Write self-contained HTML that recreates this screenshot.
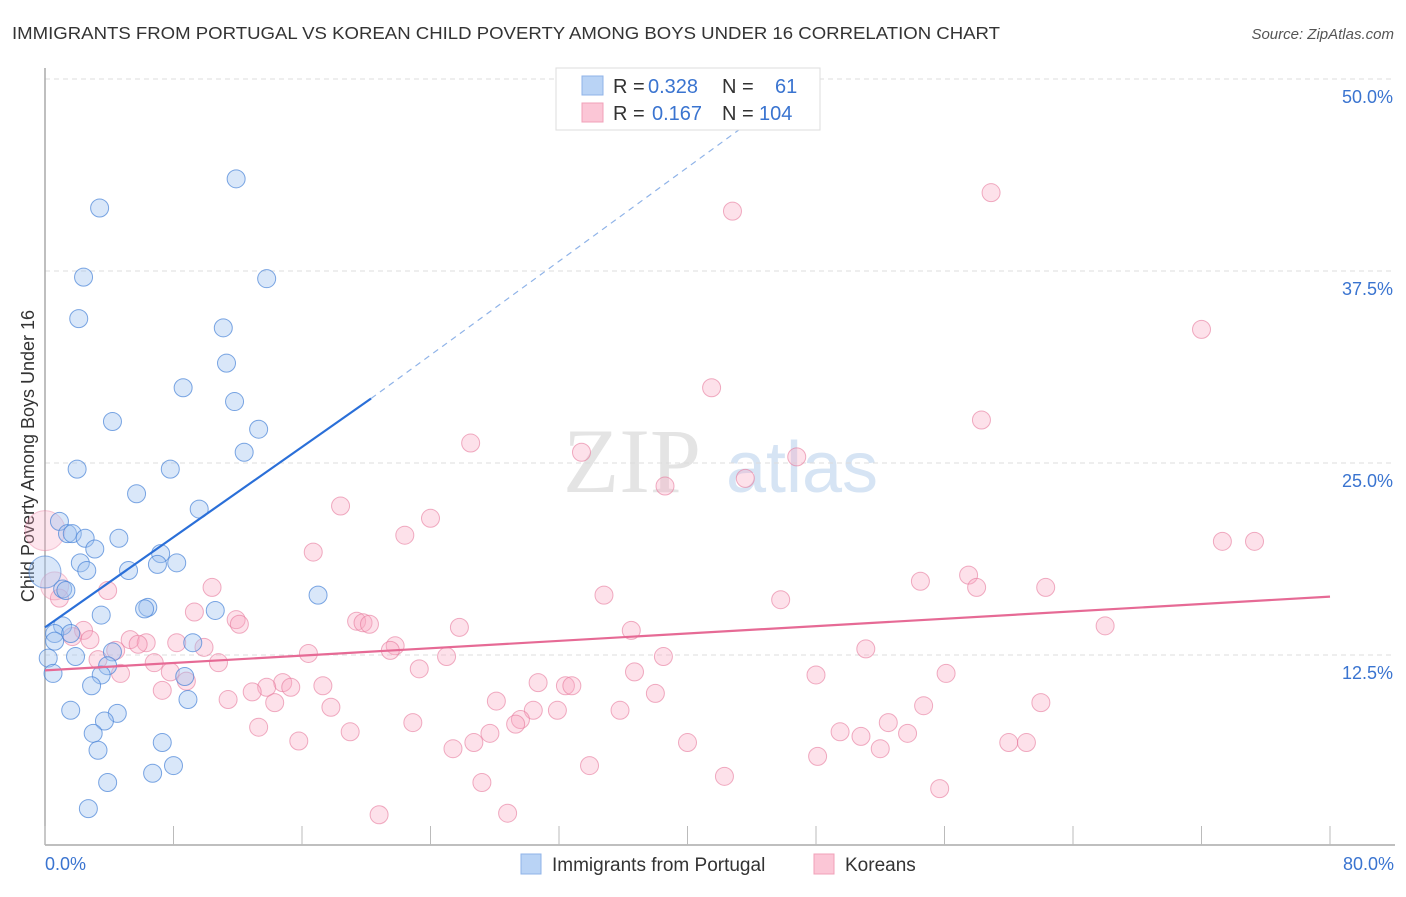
<!DOCTYPE html>
<html><head><meta charset="utf-8">
<style>
body{margin:0;background:#fff;font-family:"Liberation Sans",sans-serif;}
#wrap{position:relative;width:1406px;height:892px;}
</style></head>
<body>
<div id="wrap">
<svg id="chart" width="1406" height="892" xmlns="http://www.w3.org/2000/svg">
<text x="12" y="39" font-size="17.5" fill="#333" textLength="988" lengthAdjust="spacingAndGlyphs">IMMIGRANTS FROM PORTUGAL VS KOREAN CHILD POVERTY AMONG BOYS UNDER 16 CORRELATION CHART</text>
<text x="1394" y="39" font-size="15" fill="#555" font-style="italic" text-anchor="end">Source: ZipAtlas.com</text>
<text x="34" y="456" font-size="18" fill="#333" text-anchor="middle" transform="rotate(-90 34 456)">Child Poverty Among Boys Under 16</text>
<g>
<text x="632" y="492" font-size="92" fill="#e4e4e4" font-family="Liberation Serif,serif" text-anchor="middle">ZIP</text>
<text x="802" y="492" font-size="72" fill="#d6e4f4" text-anchor="middle">atlas</text>
</g>
<g id="grid"></g>
<g id="axes"></g>
<g id="pts"></g>
<g id="lines"></g>
<g>
<rect x="556" y="68" width="264" height="62" fill="#fff" stroke="#ddd"/>
<rect x="582" y="76" width="21" height="19" fill="#b9d3f5" stroke="#8fb3e8"/>
<rect x="582" y="103" width="21" height="19" fill="#fbc6d6" stroke="#f0a0b8"/>
<text font-size="20" y="93"><tspan x="613" fill="#333">R = </tspan><tspan x="648" fill="#3a74d0">0.328</tspan><tspan x="722" fill="#333">N = </tspan><tspan x="775" fill="#3a74d0">61</tspan></text>
<text font-size="20" y="120"><tspan x="613" fill="#333">R = </tspan><tspan x="652" fill="#3a74d0">0.167</tspan><tspan x="722" fill="#333">N = </tspan><tspan x="759" fill="#3a74d0">104</tspan></text>
</g>
<text x="45" y="870" font-size="18" fill="#3a74d0">0.0%</text>
<text x="1394" y="870" font-size="18" fill="#3a74d0" text-anchor="end">80.0%</text>
<g>
<rect x="521" y="854" width="20" height="20" fill="#b9d3f5" stroke="#8fb3e8"/>
<text x="552" y="871" font-size="19" fill="#333">Immigrants from Portugal</text>
<rect x="814" y="854" width="20" height="20" fill="#fbc6d6" stroke="#f0a0b8"/>
<text x="845" y="871" font-size="19" fill="#333">Koreans</text>
</g>
</svg>
</div>
<script>
const yTicks=[12.5,25,37.5,50];
const yTickLabels=["12.5%","25.0%","37.5%","50.0%"];
const xTicks=[0,8,16,24,32,40,48,56,64,72,80];
const blueX=[3.4,11.9,2.4,13.8,2.1,11.1,11.3,8.6,11.8,4.2,13.3,12.4,2.0,7.8,5.7,9.6,0.9,1.4,1.7,2.5,4.6,3.1,7.2,2.2,8.2,7.0,2.6,5.2,1.1,1.3,17.0,6.4,6.2,10.6,3.5,1.1,0.6,1.6,0.6,9.2,4.2,0.2,1.9,3.9,0.5,3.5,8.7,2.9,8.9,1.6,4.5,3.7,3.0,7.3,3.3,8.0,6.7,3.9,2.7];
const blueY=[41.6,43.5,37.1,37.0,34.4,33.8,31.5,29.9,29.0,27.7,27.2,25.7,24.6,24.6,23.0,22.0,21.2,20.4,20.4,20.1,20.1,19.4,19.1,18.5,18.5,18.4,18.0,18.0,16.8,16.7,16.4,15.6,15.5,15.4,15.1,14.4,13.9,13.9,13.4,13.3,12.7,12.3,12.4,11.8,11.3,11.2,11.1,10.5,9.6,8.9,8.7,8.2,7.4,6.8,6.3,5.3,4.8,4.2,2.5];
const blueBigX=[0];const blueBigY=[17.9];
const pinkX=[58.9,42.8,72.0,41.5,58.3,26.5,33.4,46.8,43.6,38.6,18.4,24.0,22.4,73.3,75.3,16.7,57.5,54.5,10.4,58.0,62.3,3.9,0.9,34.8,45.8,9.3,11.9,12.1,19.4,19.8,20.2,25.8,66.0,36.5,2.4,1.7,2.8,5.3,6.3,8.2,5.8,21.8,21.5,4.4,9.9,51.1,16.4,25.0,38.5,3.3,6.8,10.8,23.3,36.7,48.0,56.1,4.7,7.8,14.8,30.7,32.4,32.8,8.8,13.8,15.3,17.3,7.3,12.9,11.4,38.0,28.1,14.3,62.0,54.7,17.8,30.4,31.9,35.8,29.6,22.9,29.3,52.5,13.3,19.0,49.5,27.7,53.7,50.8,15.8,26.7,40.0,60.0,61.1,25.4,52.0,48.1,33.9,42.3,27.2,55.7,28.8,20.8];
const pinkY=[42.6,41.4,33.7,29.9,27.8,26.3,25.7,25.4,24.0,23.5,22.2,21.4,20.3,19.9,19.9,19.2,17.7,17.3,16.9,16.9,16.9,16.7,16.2,16.4,16.1,15.3,14.8,14.5,14.7,14.6,14.5,14.3,14.4,14.1,14.1,13.7,13.5,13.5,13.3,13.3,13.2,13.1,12.8,12.8,13.0,12.9,12.6,12.4,12.4,12.2,12.0,12.0,11.6,11.4,11.2,11.3,11.3,11.4,10.7,10.7,10.5,10.5,10.8,10.4,10.4,10.5,10.2,10.1,9.6,10.0,9.5,9.4,9.4,9.2,9.1,8.9,8.9,8.9,8.3,8.1,8.0,8.1,7.8,7.5,7.5,7.4,7.4,7.2,6.9,6.8,6.8,6.8,6.8,6.4,6.4,5.9,5.3,4.6,4.2,3.8,2.2,2.1];
const pinkBigX=[0,0.6];const pinkBigY=[20.6,17.0];const pinkBigR=[20,14];
const blueTrendX=[0,20.3,44];const blueTrendY=[14.3,29.2,47.3];
const pinkTrendX=[0,80];const pinkTrendY=[11.5,16.3];

const NS="http://www.w3.org/2000/svg";
const sx=v=>45+v*(1330-45)/80;
const sy=v=>847-v*15.36;
function mk(tag,attrs,parent){const e=document.createElementNS(NS,tag);for(const k in attrs)e.setAttribute(k,attrs[k]);document.getElementById(parent).appendChild(e);return e;}
yTicks.forEach((t,i)=>{
 const l=mk('line',{x1:45,x2:1395,y1:sy(t),y2:sy(t),stroke:'#ddd','stroke-dasharray':'5,4'},'grid');
 
 
 const tx=mk('text',{x:1393,y:sy(t)+24,'font-size':18,fill:'#3a74d0','text-anchor':'end'},'grid');
 tx.textContent=yTickLabels[i];
 
 
});
const ax=mk('line',{x1:45,x2:1395,y1:845,y2:845,stroke:'#aaa','stroke-width':1.5},'axes');


const ay=mk('line',{x1:45,x2:45,y1:68,y2:845,stroke:'#aaa','stroke-width':1.5},'axes');


xTicks.forEach(t=>{
 const l=mk('line',{x1:sx(t),x2:sx(t),y1:826,y2:845,stroke:'#bbb'},'axes');
 
 
});
function dot(x,y,r,fill,stroke,name){
 const c=mk('circle',{cx:sx(x),cy:sy(y),r:r,fill:fill,stroke:stroke,'stroke-width':1},'pts');
 
 
}
pinkX.forEach((x,i)=>dot(x,pinkY[i],9,'rgba(248,170,195,0.35)','rgba(230,120,155,0.6)','korean-point'));
pinkBigX.forEach((x,i)=>dot(x,pinkBigY[i],pinkBigR[i],'rgba(248,170,195,0.3)','rgba(230,120,155,0.4)','korean-point'));
blueX.forEach((x,i)=>dot(x,blueY[i],9,'rgba(160,195,240,0.4)','rgba(70,130,215,0.7)','portugal-point'));
blueBigX.forEach((x,i)=>dot(x,blueBigY[i],16,'rgba(160,195,240,0.4)','rgba(70,130,215,0.6)','portugal-point'));
const bl=mk('line',{x1:sx(blueTrendX[0]),y1:sy(blueTrendY[0]),x2:sx(blueTrendX[1]),y2:sy(blueTrendY[1]),stroke:'#2a6fd8','stroke-width':2.2},'lines');


const bd=mk('line',{x1:sx(blueTrendX[1]),y1:sy(blueTrendY[1]),x2:sx(blueTrendX[2]),y2:sy(blueTrendY[2]),stroke:'#8fb3e8','stroke-width':1.2,'stroke-dasharray':'6,5'},'lines');


const pl=mk('line',{x1:sx(pinkTrendX[0]),y1:sy(pinkTrendY[0]),x2:sx(pinkTrendX[1]),y2:sy(pinkTrendY[1]),stroke:'#e66a95','stroke-width':2.2},'lines');


</script>
</body></html>
